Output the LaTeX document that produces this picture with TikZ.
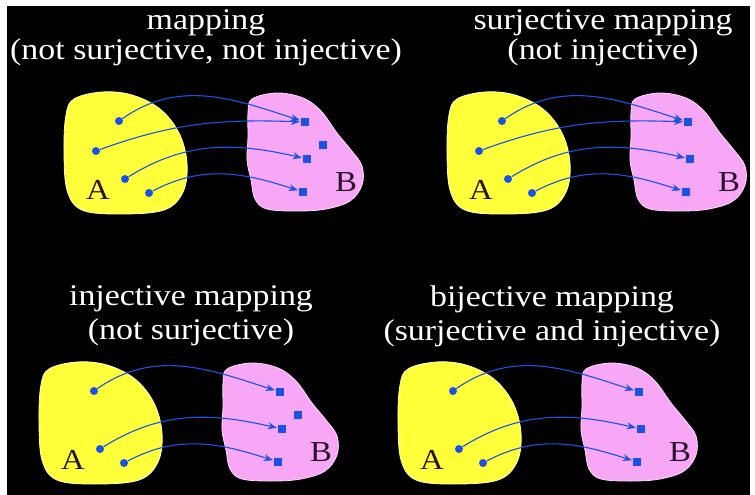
\documentclass[tikz,border=0pt]{standalone}
\usepackage{fontspec}
\setmainfont{Liberation Serif}
\newfontfamily\titlefont[FakeStretch=1.13]{Liberation Serif}
\usepackage{tikz}
\usetikzlibrary{arrows.meta}
\definecolor{setyellow}{HTML}{FFFF3A}
\definecolor{setpink}{HTML}{F8A6F6}
\definecolor{mapblue}{HTML}{1A52E6}
\definecolor{labelink}{HTML}{2A142A}

\begin{document}
\begin{tikzpicture}[x=1pt, y=-1pt,
    elem/.style={circle, fill=mapblue, inner sep=0pt, minimum size=8pt},
    img/.style={rectangle, fill=mapblue, inner sep=0pt, minimum size=8pt},
    map/.style={-{Stealth[length=9pt, width=7pt]}, line width=1.1pt, color=mapblue, shorten >=1pt},
    title/.style={text=white, align=center, font=\titlefont\fontsize{30}{30}\selectfont},
    setlabel/.style={text=labelink, font=\titlefont\fontsize{29}{29}\selectfont},
    seta/.style={fill=setyellow, draw=white!70!setyellow, line width=0.8pt},
    setb/.style={fill=setpink, draw=white!60!setpink, line width=0.8pt}
]
\fill[white] (0,0) rectangle (755,495);
\fill[black] (7,6) rectangle (750,495);

% the two sets, once per panel
\foreach \dx/\dy/\p in {0/0/1, 383/0/2, -25/270/3, 334/270/4}{
  \begin{scope}[shift={(\dx,\dy)}]
    \draw[seta] plot[smooth cycle, tension=0.6] coordinates {
      (74,99) (102,92) (132,95) (160,109) (179,133) (187,163) (183,192)
      (164,210) (120,214) (82,210) (67,190) (64,150) (66,115)};
    \draw[setb] plot[smooth cycle, tension=0.6] coordinates {
      (252,99) (277,93) (303,98) (321,111) (337,133) (351,150) (362,166)
      (362,185) (350,201) (326,209) (297,211) (267,209) (255,199)
      (251,180) (247,160) (248,137) (248,113)};
    \node[setlabel] (A\p) at (98,190) {A};
    \node[setlabel] (B\p) at (346,182) {B};
  \end{scope}
}

% mapping
\node[title] (t1) at (206,38) {mapping\\(not surjective, not injective)};
\node[elem] (a11) at (119,121) {};
\node[elem] (a12) at (96,151) {};
\node[elem] (a13) at (125,179) {};
\node[elem] (a14) at (149,193) {};
\node[img] (b11) at (305,122) {};
\node[img] (b12) at (323,145) {};
\node[img] (b13) at (307,159) {};
\node[img] (b14) at (303,192) {};
\draw[map] (a11) to[out=35, in=162] (b11);
\draw[map] (a12) to[out=20, in=178] (b11);
\draw[map] (a13) to[out=32, in=167] (b13);
\draw[map] (a14) to[out=28, in=162] (b14);

% surjective
\node[title] (t2) at (603,38) {surjective mapping\\(not injective)};
\node[elem] (a21) at (502,121) {};
\node[elem] (a22) at (479,151) {};
\node[elem] (a23) at (508,179) {};
\node[elem] (a24) at (532,193) {};
\node[img] (b21) at (688,122) {};
\node[img] (b22) at (690,159) {};
\node[img] (b23) at (686,192) {};
\draw[map] (a21) to[out=35, in=162] (b21);
\draw[map] (a22) to[out=20, in=178] (b21);
\draw[map] (a23) to[out=32, in=167] (b22);
\draw[map] (a24) to[out=28, in=162] (b23);

% injective
\node[title] (t3) at (191,316) {injective mapping\\[4pt](not surjective)};
\node[elem] (a31) at (94,391) {};
\node[elem] (a32) at (100,449) {};
\node[elem] (a33) at (124,463) {};
\node[img] (b31) at (280,392) {};
\node[img] (b32) at (298,415) {};
\node[img] (b33) at (282,429) {};
\node[img] (b34) at (278,462) {};
\draw[map] (a31) to[out=35, in=162] (b31);
\draw[map] (a32) to[out=32, in=167] (b33);
\draw[map] (a33) to[out=28, in=162] (b34);

% bijective
\node[title] (t4) at (552,316) {bijective mapping\\[4pt](surjective and injective)};
\node[elem] (a41) at (453,391) {};
\node[elem] (a42) at (459,449) {};
\node[elem] (a43) at (483,463) {};
\node[img] (b41) at (639,392) {};
\node[img] (b42) at (641,429) {};
\node[img] (b43) at (637,462) {};
\draw[map] (a41) to[out=35, in=162] (b41);
\draw[map] (a42) to[out=32, in=167] (b42);
\draw[map] (a43) to[out=28, in=162] (b43);
\end{tikzpicture}
\end{document}
